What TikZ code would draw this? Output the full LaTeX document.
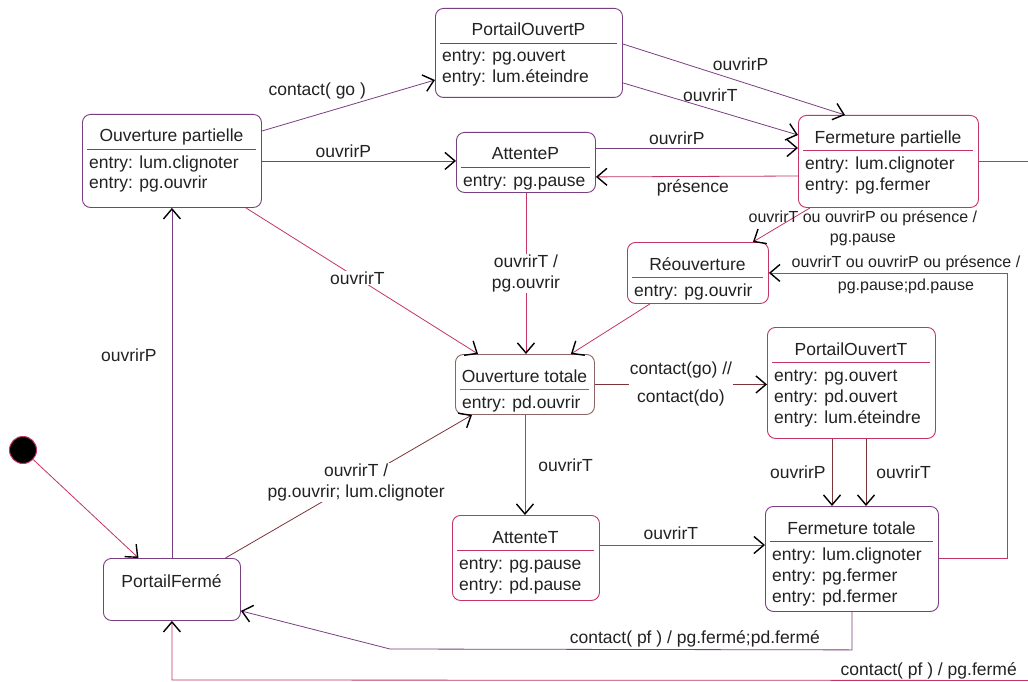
\documentclass[tikz,border=0pt]{standalone}
\usepackage{fontspec}
\setmainfont{Liberation Sans}
\usetikzlibrary{arrows.meta,positioning}

\definecolor{violetb}{RGB}{122,62,130}
\definecolor{rose}{RGB}{196,52,100}
\definecolor{brun}{RGB}{122,52,58}
\definecolor{grisbrun}{RGB}{140,100,100}
\definecolor{texte}{RGB}{34,34,34}

% etat : nom, x, y (coin haut gauche), largeur, hauteur, couleur, titre, entrees
\newcommand{\etat}[8]{%
  \node[etat, draw=#6, minimum width=#4, minimum height=#5] (#1) at (#2,#3) {};
  \node[titre] (#1-t) at (#2+#4/2,#3+28) {#7};
  \draw[#6, line width=0.9pt] (#2+5,#3+35) -- (#2+#4-5,#3+35);
  \foreach \e [count=\i] in {#8}
    \node[entree] (#1-\i) at (#2+7,#3+33+21*\i) {\e};
}

\begin{document}
\begin{tikzpicture}[x=1pt, y=-1pt,
  every node/.style={font=\fontsize{17.5pt}{21pt}\selectfont, text=texte},
  etat/.style={rounded corners=8pt, line width=0.9pt, anchor=north west, inner sep=0pt},
  titre/.style={anchor=base, inner sep=0pt},
  entree/.style={anchor=base west, inner sep=0pt},
  fleche/.style={line width=0.8pt, -{Straight Barb[length=10pt,width=17pt,color=black,line width=1.4pt]}},
  etiq/.style={inner sep=1pt, align=center},
  etiqf/.style={etiq, fill=white},
  petit/.style={font=\fontsize{16pt}{20pt}\selectfont}
]
  \useasboundingbox (0,0) rectangle (1028,682);
  \fill[white] (0,0) rectangle (1028,682);

  % etats
  \etat{opart}{82}{114}{179}{93}{violetb}{Ouverture partielle}{entry: lum.clignoter,entry: pg.ouvrir}
  \etat{pop}{435}{8}{187}{89}{violetb}{PortailOuvertP}{entry: pg.ouvert,entry: lum.éteindre}
  \etat{attp}{456}{132}{139}{60}{violetb}{AttenteP}{entry: pg.pause}
  \etat{fpart}{798}{115}{180}{92}{rose}{Fermeture partielle}{entry: lum.clignoter,entry: pg.fermer}
  \etat{reouv}{627}{242}{141}{61}{rose}{Réouverture}{entry: pg.ouvrir}
  \etat{otot}{455}{354}{139}{60}{grisbrun}{Ouverture totale}{entry: pd.ouvrir}
  \etat{pot}{767}{327}{168}{111}{rose}{PortailOuvertT}{entry: pg.ouvert,entry: pd.ouvert,entry: lum.éteindre}
  \etat{attt}{452}{515}{147}{85}{rose}{AttenteT}{entry: pg.pause,entry: pd.pause}
  \etat{ftot}{765}{506}{173}{105}{violetb}{Fermeture totale}{entry: lum.clignoter,entry: pg.fermer,entry: pd.fermer}
  \node[etat, draw=violetb, minimum width=137, minimum height=62] (pferme) at (103,558) {};
  \node[titre] (pferme-t) at (171.5,587) {PortailFermé};
  \node[circle, fill=black, draw=rose, line width=1pt, minimum size=27pt, inner sep=0pt] (init) at (23,450) {};

  % transitions
  \draw[fleche, rose] (init) -- ([xshift=-33.5pt]pferme.north);
  \draw[fleche, violetb] (pferme.north) -- node[etiq, pos=0.58, left=14pt] {ouvrirP} (opart.south);
  \draw[fleche, brun] ([xshift=53.5pt]pferme.north) -- node[etiqf, pos=0.53] {ouvrirT /\\pg.ouvrir; lum.clignoter} ([xshift=17pt]otot.south west);
  \draw[fleche, violetb] (ftot.south) -- ++(0,38) -- node[etiq, pos=0.34, above=1pt] {contact( pf ) / pg.fermé;pd.fermé} (390,649) -- ([yshift=10pt]pferme.south east);
  \draw[fleche, rose] (fpart.east) -- ++(56,0) -- ++(0,519) -- node[etiq, pos=0.123, above=0pt] {contact( pf ) / pg.fermé} (pferme.south |- 0,680) -- (pferme.south);

  \draw[fleche, violetb] ([yshift=-17pt]opart.north east) -- node[etiq, pos=0.32, above=14pt] {contact( go )} ([yshift=-72pt]pop.north west);
  \draw[fleche, violetb] (opart.east) -- node[etiq, pos=0.42, above=2pt] {ouvrirP} (opart.east -| attp.west);
  \draw[fleche, rose] ([xshift=-16pt]opart.south east) -- node[etiqf, pos=0.48] {ouvrirT} ([xshift=23pt]otot.north west);

  \draw[fleche, violetb] ([yshift=-36pt]pop.north east) -- node[etiq, pos=0.53, above=10pt] {ouvrirP} ([xshift=47pt]fpart.north west);
  \draw[fleche, violetb] ([yshift=15pt]pop.south east) -- node[etiq, pos=0.5, above=6pt] {ouvrirT} ([yshift=-20pt]fpart.north west);
  \draw[fleche, violetb] ([yshift=-16pt]attp.north east) -- node[etiq, pos=0.4, above=2pt] {ouvrirP} ([yshift=-33pt]fpart.north west);
  \draw[fleche, rose] ([yshift=-61pt]fpart.north west) -- node[etiq, pos=0.52, below=2pt] {présence} ([yshift=16pt]attp.south east);
  \draw[fleche, rose] (attp.south) -- node[etiqf] {ouvrirT /\\pg.ouvrir} (attp.south |- otot.north);

  \draw[fleche, rose] ([xshift=12pt]fpart.south west) -- node[etiq, petit, pos=0.3, xshift=70pt, yshift=-10pt] {ouvrirT ou ouvrirP ou présence /\\pg.pause} ([xshift=-16pt]reouv.north east);
  \draw[fleche, rose] ([yshift=-52pt]ftot.north east) -- ++(68,0) |- node[etiq, petit, pos=0.712, yshift=-2pt] {ouvrirT ou ouvrirP ou présence /\\[3pt]pg.pause;pd.pause} (reouv.east);
  \draw[fleche, rose] ([xshift=23pt]reouv.south west) -- ([xshift=-24pt]otot.north east);

  \draw[fleche, brun] (otot.east) -- node[etiqf] {contact(go) //\\[7pt]contact(do)} (otot.east -| pot.west);
  \draw[fleche, rose] (otot.south) -- node[etiq, right=12pt] {ouvrirT} (otot.south |- attt.north);
  \draw[fleche, rose] ([yshift=-30pt]attt.north east) -- node[etiq, pos=0.43, above=4pt] {ouvrirT} ([yshift=-39pt]ftot.north west);
  \draw[fleche, brun] ([xshift=65pt]pot.south west) -- node[etiq, left=5pt] {ouvrirP} ([xshift=65pt]pot.south west |- ftot.north);
  \draw[fleche, brun] ([xshift=99pt]pot.south west) -- node[etiq, right=9pt] {ouvrirT} ([xshift=99pt]pot.south west |- ftot.north);
\end{tikzpicture}
\end{document}
